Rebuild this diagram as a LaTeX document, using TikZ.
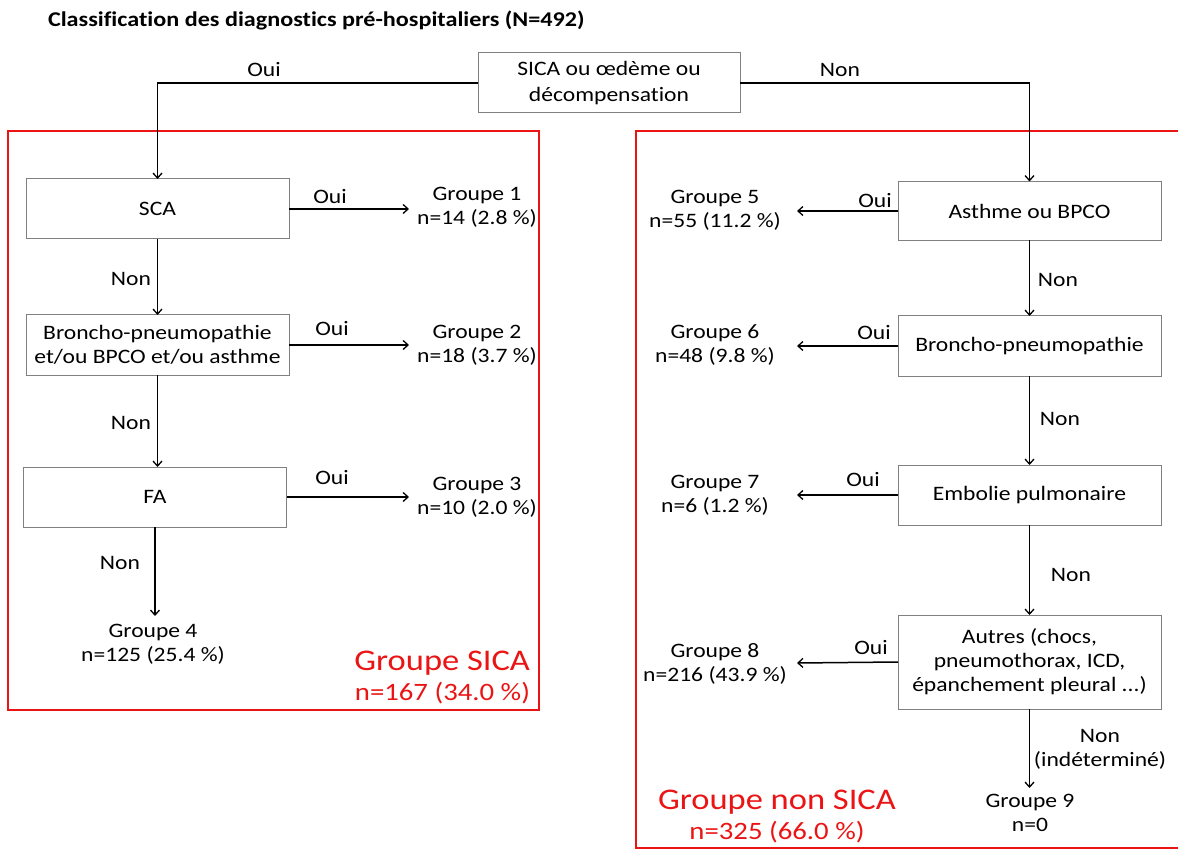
\documentclass[tikz,border=0pt]{standalone}
\usepackage{fontspec}
\setmainfont{Carlito}[FakeStretch=1.15,Ligatures={NoCommon,NoRare,NoContextual}]
\usetikzlibrary{arrows.meta}
\definecolor{boxgray}{RGB}{128,128,128}
\definecolor{redc}{RGB}{235,20,20}
\begin{document}
\begin{tikzpicture}[x=1pt,y=-1pt,
  every node/.style={inner sep=0pt,outer sep=0pt},
  txt/.style={font=\fontsize{20.5}{24}\selectfont,align=center},
  box/.style={txt,draw=boxgray,line width=1pt,minimum width=263pt,minimum height=60pt},
  arr/.style={line width=1.5pt,-{Straight Barb[length=5pt,width=9pt,line width=1.3pt]}},
  frame/.style={draw=redc,line width=1.5pt},
  redbig/.style={text=redc,font=\fontsize{30}{34}\selectfont},
  redsmall/.style={text=redc,font=\fontsize{25}{28}\selectfont}]
\useasboundingbox (0,0) rectangle (1178,850);

% title
\node[anchor=west,font=\bfseries\fontsize{21}{24}\selectfont] (title) at (48,20) {Classification des diagnostics pré-hospitaliers (N=492)};

% red frames
\draw[frame] (8,131) rectangle (539,710);
\draw[frame] (636,131) rectangle (1190,848);

% top decision
\node[box,minimum width=262pt,font=\fontsize{20.5}{26}\selectfont] (top) at (609,83) {SICA ou œdème ou\\décompensation};

% left column
\node[box] (sca) at (157.5,209) {SCA};
\node[box] (bro) at (157.5,345) {Broncho-pneumopathie\\et/ou BPCO et/ou asthme};
\node[box] (fa) at (155,497) {FA};
\node[txt] (g1) at (477,207) {Groupe 1\\n=14 (2.8 \%)};
\node[txt] (g2) at (477,345) {Groupe 2\\n=18 (3.7 \%)};
\node[txt] (g3) at (477,497) {Groupe 3\\n=10 (2.0 \%)};
\node[txt] (g4) at (153,644) {Groupe 4\\n=125 (25.4 \%)};
\coordinate (g1a) at (409,209);
\coordinate (g2a) at (409,345);
\coordinate (g3a) at (409,497);
\coordinate (g4a) at (155,616);

% right column
\node[box,minimum height=59pt] (asth) at (1029.5,211) {Asthme ou BPCO};
\node[box] (bror) at (1029.5,346) {Broncho-pneumopathie};
\node[box] (emb) at (1029.5,495) {Embolie pulmonaire};
\node[box,minimum height=94pt] (aut) at (1029.5,662) {Autres (chocs,\\pneumothorax, ICD,\\épanchement pleural ...)};
\node[txt] (g5) at (715,210) {Groupe 5\\n=55 (11.2 \%)};
\node[txt] (g6) at (715,345) {Groupe 6\\n=48 (9.8 \%)};
\node[txt] (g7) at (715,495) {Groupe 7\\n=6 (1.2 \%)};
\node[txt] (g8) at (715,664) {Groupe 8\\n=216 (43.9 \%)};
\node[txt] (g9) at (1030,813) {Groupe 9\\n=0};
\coordinate (g5a) at (797,211);
\coordinate (g6a) at (797,346);
\coordinate (g7a) at (797,495);
\coordinate (g8a) at (797,663);
\coordinate (g9a) at (1029.5,788);

% connectors
\draw[arr] (top.west) -| (sca.north);
\draw[arr] (top.east) -| (asth.north);
\draw[arr] (sca.east) -- (g1a);
\draw[arr] (bro.east) -- (g2a);
\draw[arr] (fa.east) -- (g3a);
\draw[arr] (sca.south) -- (bro.north);
\draw[arr] (bro.south) -- (bro.south |- fa.north);
\draw[arr] (fa.south) -- (g4a);
\draw[arr] (asth.west) -- (g5a);
\draw[arr] (bror.west) -- (g6a);
\draw[arr] (emb.west) -- (g7a);
\draw[arr] (aut.west) -- (g8a);
\draw[arr] (asth.south) -- (bror.north);
\draw[arr] (bror.south) -- (emb.north);
\draw[arr] (emb.south) -- (aut.north);
\draw[arr] (aut.south) -- (g9a);

% edge labels
\node[txt] (l1) at (264,70) {Oui};
\node[txt] (l2) at (840,70) {Non};
\node[txt] (l3) at (330,197) {Oui};
\node[txt] (l4) at (131,279) {Non};
\node[txt] (l5) at (332,329) {Oui};
\node[txt] (l6) at (131,423) {Non};
\node[txt] (l7) at (332,478) {Oui};
\node[txt] (l8) at (120,563) {Non};
\node[txt] (l9) at (875,201) {Oui};
\node[txt] (l10) at (1058,280) {Non};
\node[txt] (l11) at (874,333) {Oui};
\node[txt] (l12) at (1060,419) {Non};
\node[txt] (l13) at (863,480) {Oui};
\node[txt] (l14) at (1071,575) {Non};
\node[txt] (l15) at (871,648) {Oui};
\node[txt] (l16) at (1100,749) {Non\\(indéterminé)};

% group totals
\node[redbig,anchor=east] (sica) at (530,663) {Groupe SICA};
\node[redsmall,anchor=east] (sican) at (530,693) {n=167 (34.0 \%)};
\node[redbig] (nsica) at (777,802) {Groupe non SICA};
\node[redsmall] (nsican) at (777,832) {n=325 (66.0 \%)};
\end{tikzpicture}
\end{document}
